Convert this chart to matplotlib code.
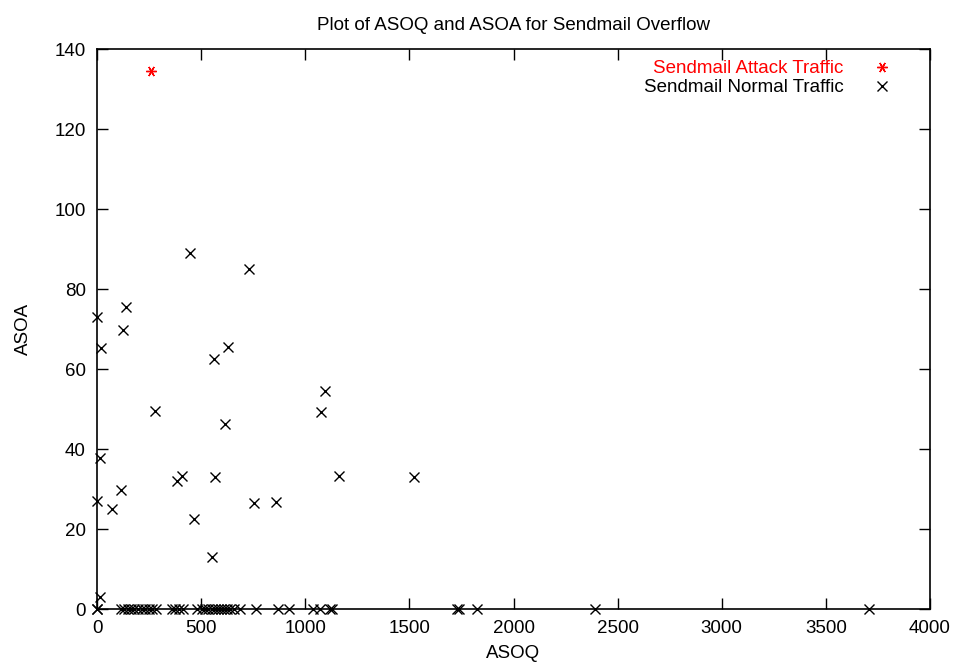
import matplotlib
matplotlib.use("Agg")
import matplotlib.pyplot as plt
from matplotlib.ticker import MultipleLocator

plt.rcParams['font.family'] = ['Liberation Sans', 'DejaVu Sans']

title = "Plot of ASOQ and ASOA for Sendmail Overflow"
x_label = "ASOQ"
y_label = "ASOA"
attack_label = "Sendmail Attack Traffic"
normal_label = "Sendmail Normal Traffic"

attack_x = [259]
attack_y = [134.5]

normal_x = [0, 19, 138, 126, 14, 2, 70, 115, 278, 447, 730, 631, 560, 1095, 1077,
            616, 406, 382, 568, 1162, 1520, 755, 861, 467, 550, 14,
            0, 0, 115, 130, 150, 165, 180, 195, 215, 230, 250, 265, 285, 358, 375,
            395, 412, 479, 505, 520, 535, 550, 565, 580, 595, 610, 625, 640, 660,
            687, 765, 867, 922, 1039, 1071, 1120, 1130, 1730, 1740, 1823, 2391, 3707]
normal_y = [73, 65.2, 75.6, 69.75, 37.7, 27, 24.9, 29.75, 49.5, 89.1, 84.9, 65.4, 62.6, 54.6, 49.3,
            46.2, 33.3, 32.1, 33.1, 33.25, 33.1, 26.6, 26.8, 22.4, 13.1, 3,
            0, 0, 0, 0, 0, 0, 0, 0, 0, 0, 0, 0, 0, 0, 0,
            0, 0, 0, 0, 0, 0, 0, 0, 0, 0, 0, 0, 0, 0,
            0, 0, 0, 0, 0, 0, 0, 0, 0, 0, 0, 0, 0]

FS = 13.5

fig = plt.figure(figsize=(9.55, 6.64), dpi=100)
ax = fig.add_axes([97/955, 1 - 609/664, (930-97)/955, (609-49)/664])

ax.plot(normal_x, normal_y, linestyle='none', marker='x', color='black',
        markersize=6.5, markeredgewidth=1.0, clip_on=False, zorder=3)
ax.plot(attack_x, attack_y, linestyle='none', marker=(6, 2, 90), color='red',
        markersize=7.5, markeredgewidth=1.0, clip_on=False, zorder=3)

ax.set_xlim(0, 4000)
ax.set_ylim(0, 140)
ax.xaxis.set_major_locator(MultipleLocator(500))
ax.yaxis.set_major_locator(MultipleLocator(20))
ax.tick_params(direction='in', top=True, right=True, length=8, width=1,
               labelsize=FS, pad=8)
for s in ax.spines.values():
    s.set_linewidth(1.2)

ax.set_title(title, fontsize=FS, pad=14)
ax.set_xlabel(x_label, fontsize=FS, labelpad=6)
ax.set_ylabel(y_label, fontsize=FS, labelpad=16)

# gnuplot-style legend: right-aligned text with marker sample to the right
ax.text(0.896, 0.966, attack_label, transform=ax.transAxes, ha='right', va='center',
        color='red', fontsize=FS)
ax.plot([0.942], [0.968], transform=ax.transAxes, marker=(6, 2, 90), color='red',
        markersize=7.5, markeredgewidth=1.0, linestyle='none')
ax.text(0.896, 0.932, normal_label, transform=ax.transAxes, ha='right', va='center',
        color='black', fontsize=FS)
ax.plot([0.942], [0.934], transform=ax.transAxes, marker='x', color='black',
        markersize=6.5, markeredgewidth=1.0, linestyle='none')

fig.savefig("out.png", dpi=100)
